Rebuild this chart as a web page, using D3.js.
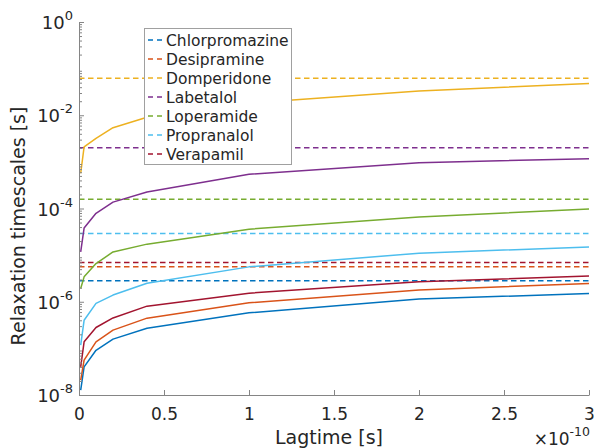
<!DOCTYPE html>
<html><head><meta charset="utf-8">
<script src="https://cdn.jsdelivr.net/npm/d3@7"></script>
<style>body{margin:0;background:#fff}svg{font-family:"DejaVu Sans",sans-serif}</style>
</head><body><svg id="c" width="594" height="448"></svg>
<script>
const drugs = ["Chlorpromazine","Desipramine","Domperidone","Labetalol","Loperamide","Propranalol","Verapamil"];
const colors = ["#0072BD","#D95319","#EDB120","#7E2F8E","#77AC30","#4DBEEE","#A2142F"];
const lagtimes = [1e-12, 3e-12, 1e-11, 2e-11, 4e-11, 1e-10, 2e-10, 3e-10];
const chlorpromazine = [1.27e-8, 4.0e-8, 9.1e-8, 1.58e-7, 2.7e-7, 5.8e-7, 1.14e-6, 1.5e-6];
const desipramine   = [2.08e-8, 5.6e-8, 1.38e-7, 2.46e-7, 4.45e-7, 9.5e-7, 1.78e-6, 2.47e-6];
const domperidone   = [5.7e-4, 2.1e-3, 3.2e-3, 5.4e-3, 9.1e-3, 0.0183, 0.033, 0.048];
const labetalol     = [1.17e-5, 3.8e-5, 7.9e-5, 1.37e-4, 2.25e-4, 5.4e-4, 9.6e-4, 1.17e-3];
const loperamide    = [1.93e-6, 3.42e-6, 6.6e-6, 1.17e-5, 1.72e-5, 3.6e-5, 6.6e-5, 9.7e-5];
const propranalol   = [1.17e-7, 4.0e-7, 9.2e-7, 1.39e-6, 2.5e-6, 5.6e-6, 1.1e-5, 1.5e-5];
const verapamil     = [4.0e-8, 1.38e-7, 2.8e-7, 4.5e-7, 8.05e-7, 1.53e-6, 2.67e-6, 3.55e-6];
const reference     = [2.81e-6, 5.61e-6, 0.062, 2.01e-3, 1.57e-4, 2.92e-5, 6.97e-6];
const xTicks = [0, 0.5e-10, 1e-10, 1.5e-10, 2e-10, 2.5e-10, 3e-10];
const yTicks = [1e-8, 1e-6, 1e-4, 1e-2, 1];
const series = [chlorpromazine, desipramine, domperidone, labetalol, loperamide, propranalol, verapamil];

const svg = d3.select("#c");
const L = 79, R = 589, T = 22, B = 395;
const x = d3.scaleLinear().domain([0, 3e-10]).range([L, R]);
const y = d3.scaleLog().domain([1e-8, 1]).range([B, T]);
const axisCol = "#858585", textCol = "#262626";

// reference dashed lines
reference.forEach((v, i) => {
  svg.append("line").attr("x1", x(0)).attr("x2", x(3e-10)).attr("y1", y(v)).attr("y2", y(v))
    .attr("stroke", colors[i]).attr("stroke-width", 1.5).attr("stroke-dasharray", "5.5,3.5");
});
// curves
const line = d3.line().x((d, j) => x(lagtimes[j])).y(d => y(d));
series.forEach((s, i) => {
  svg.append("path").attr("d", line(s)).attr("fill", "none")
    .attr("stroke", colors[i]).attr("stroke-width", 1.5).attr("stroke-linejoin", "round");
});

// axes
const xa = svg.append("g").attr("transform", `translate(0,${B})`)
  .call(d3.axisBottom(x).tickValues(xTicks).tickSizeInner(-5).tickSizeOuter(0).tickFormat(d => d3.format("~g")(+(d / 1e-10).toFixed(2))));
xa.select(".domain").attr("stroke", axisCol);
xa.selectAll(".tick line").attr("stroke", axisCol);
xa.selectAll(".tick text").attr("fill", textCol).attr("font-size", 17).attr("dy", 22).attr("font-family", "DejaVu Sans");

const minor = [];
for (let e = -8; e < 0; e++) for (let k = 2; k <= 9; k++) minor.push(k * Math.pow(10, e));
const ym = svg.append("g").attr("transform", `translate(${L},0)`)
  .call(d3.axisLeft(y).tickValues(minor).tickSize(-3).tickFormat(""));
ym.select(".domain").remove();
ym.selectAll(".tick line").attr("stroke", axisCol);
const ya = svg.append("g").attr("transform", `translate(${L},0)`)
  .call(d3.axisLeft(y).tickValues(yTicks).tickSizeInner(-5).tickSizeOuter(0).tickFormat(""));
ya.select(".domain").attr("stroke", axisCol);
ya.selectAll(".tick line").attr("stroke", axisCol);
yTicks.forEach(v => {
  const t = svg.append("text").attr("x", L - 6).attr("y", y(v) + 7).attr("text-anchor", "end")
    .attr("fill", textCol).attr("font-size", 18);
  t.append("tspan").text("10");
  t.append("tspan").attr("dy", -9).attr("font-size", 13).text(String(Math.round(Math.log10(v))));
});

// labels
svg.append("text").attr("x", 329).attr("y", 444).attr("text-anchor", "middle")
  .attr("fill", textCol).attr("font-size", 19).text("Lagtime [s]");
svg.append("text").attr("transform", `translate(25,226) rotate(-90)`).attr("text-anchor", "middle")
  .attr("fill", textCol).attr("font-size", 19).text("Relaxation timescales [s]");
const ex = svg.append("text").attr("x", 590).attr("y", 445).attr("text-anchor", "end").attr("fill", textCol).attr("font-size", 17);
ex.append("tspan").text("×10");
ex.append("tspan").attr("dy", -9).attr("font-size", 12.5).text("-10");

// legend
const lg = svg.append("g");
lg.append("rect").attr("x", 144.5).attr("y", 28.5).attr("width", 147).attr("height", 136)
  .attr("fill", "#fff").attr("stroke", "#a0a0a0").attr("stroke-width", 1);
drugs.forEach((d, i) => {
  const yy = 40 + i * 19;
  lg.append("line").attr("x1", 148).attr("x2", 163).attr("y1", yy).attr("y2", yy)
    .attr("stroke", colors[i]).attr("stroke-width", 1.5).attr("stroke-dasharray", "5,4");
  lg.append("text").attr("x", 166).attr("y", yy + 5.5).attr("fill", textCol).attr("font-size", 15.5).text(d);
});
</script></body></html>
